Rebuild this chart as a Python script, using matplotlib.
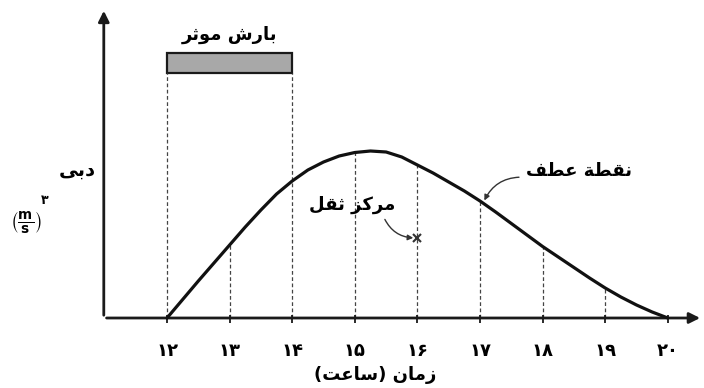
import matplotlib
matplotlib.use("Agg")
import matplotlib.pyplot as plt

# داده‌ها (خوانده‌شده از شکل)
hours = [12.0, 12.25, 12.5, 12.75, 13.0, 13.25, 13.5, 13.75, 14.0, 14.25, 14.5, 14.75,
         15.0, 15.25, 15.5, 15.75, 16.0, 16.25, 16.5, 16.75, 17.0, 17.25, 17.5, 17.75,
         18.0, 18.25, 18.5, 18.75, 19.0, 19.25, 19.5, 19.75, 20.0]
discharge = [0, 18.5, 37, 55, 73, 91, 108, 124, 137, 148, 156, 162,
             165.5, 167, 166, 161, 153, 145, 136, 127, 117, 106, 94.5, 83,
             71.5, 61, 50.5, 40, 30, 21, 13, 6, 0]

tick_hours = [12, 13, 14, 15, 16, 17, 18, 19, 20]
guide_hours = [13, 15, 16, 17, 18, 19]
guide_tops = [73, 165.5, 153, 117, 71.5, 30]
rain_start, rain_end = 12, 14
rain_bottom, rain_top = 245, 265
centroid = (16, 80)
inflection = (17.05, 115)

label_rain = "بارش موثر"
label_y = "دبی"
label_x = "زمان (ساعت)"
label_centroid = "مرکز ثقل"
label_inflection = "نقطة عطف"

# شکل‌دهی ساده‌ی حروف عربی/فارسی (matplotlib خودش این کار را نمی‌کند)
FORMS = {
    'ا': ('\uFE8D', '\uFE8E', None, None),
    'ب': ('\uFE8F', '\uFE90', '\uFE91', '\uFE92'),
    'ة': ('\uFE93', '\uFE94', None, None),
    'ت': ('\uFE95', '\uFE96', '\uFE97', '\uFE98'),
    'ث': ('\uFE99', '\uFE9A', '\uFE9B', '\uFE9C'),
    'د': ('\uFEA9', '\uFEAA', None, None),
    'ر': ('\uFEAD', '\uFEAE', None, None),
    'ز': ('\uFEAF', '\uFEB0', None, None),
    'س': ('\uFEB1', '\uFEB2', '\uFEB3', '\uFEB4'),
    'ش': ('\uFEB5', '\uFEB6', '\uFEB7', '\uFEB8'),
    'ط': ('\uFEC1', '\uFEC2', '\uFEC3', '\uFEC4'),
    'ع': ('\uFEC9', '\uFECA', '\uFECB', '\uFECC'),
    'ف': ('\uFED1', '\uFED2', '\uFED3', '\uFED4'),
    'ق': ('\uFED5', '\uFED6', '\uFED7', '\uFED8'),
    'ل': ('\uFEDD', '\uFEDE', '\uFEDF', '\uFEE0'),
    'م': ('\uFEE1', '\uFEE2', '\uFEE3', '\uFEE4'),
    'ن': ('\uFEE5', '\uFEE6', '\uFEE7', '\uFEE8'),
    'ه': ('\uFEE9', '\uFEEA', '\uFEEB', '\uFEEC'),
    'و': ('\uFEED', '\uFEEE', None, None),
    'ک': ('\uFB8E', '\uFB8F', '\uFB90', '\uFB91'),
    'ی': ('\uFBFC', '\uFBFD', '\uFBFE', '\uFBFF'),
}
MIRROR = {'(': ')', ')': '('}


def fa(text):
    out = []
    for i, c in enumerate(text):
        if c not in FORMS:
            out.append(c)
            continue
        prev = text[i - 1] if i > 0 else ''
        nxt = text[i + 1] if i + 1 < len(text) else ''
        jp = prev in FORMS and FORMS[prev][2] is not None
        jn = FORMS[c][2] is not None and nxt in FORMS
        if jp and jn:
            out.append(FORMS[c][3])
        elif jp:
            out.append(FORMS[c][1])
        elif jn:
            out.append(FORMS[c][2])
        else:
            out.append(FORMS[c][0])
    return ''.join(MIRROR.get(c, c) for c in reversed(out))


def fa_num(n):
    return str(n).translate(str.maketrans('0123456789', '۰۱۲۳۴۵۶۷۸۹'))


plt.rcParams['font.family'] = ['DejaVu Sans']
plt.rcParams['mathtext.fontset'] = 'dejavusans'

fig = plt.figure(figsize=(7.04, 3.88), dpi=100)
ax = fig.add_axes([0, 0, 1, 1])
ax.set_xlim(9.332, 20.578)
ax.set_ylim(-70, 318)
ax.axis('off')

# خطوط راهنمای خط‌چین
ax.vlines(guide_hours, 0, guide_tops, colors='#444444', linestyles=(0, (3, 2)), lw=0.9)
ax.vlines([rain_start, rain_end], 0, rain_bottom, colors='#444444', linestyles=(0, (3, 2)), lw=0.9)

# بارش موثر
ax.bar(rain_start, rain_top - rain_bottom, width=rain_end - rain_start, bottom=rain_bottom,
       align='edge', color='#a8a8a8', edgecolor='#1a1a1a', lw=1.6)
ax.text((rain_start + rain_end) / 2, 283, fa(label_rain), ha='center', va='center',
        fontsize=13, fontweight='bold')

# هیدروگراف
ax.plot(hours, discharge, color='#111111', lw=2.3, solid_joinstyle='round',
        solid_capstyle='round', zorder=4)

# محورها
ax.annotate('', xy=(20.56, 0), xytext=(10.99, 0), annotation_clip=False,
            arrowprops=dict(arrowstyle='-|>', lw=2, color='#1a1a1a', mutation_scale=16))
ax.annotate('', xy=(10.99, 310), xytext=(10.99, 0), annotation_clip=False,
            arrowprops=dict(arrowstyle='-|>', lw=2, color='#1a1a1a', mutation_scale=16))
ax.vlines(tick_hours, -5, 3, colors='#1a1a1a', lw=1.3)
for h in tick_hours:
    ax.text(h, -33, fa_num(h), ha='center', va='center', fontsize=13, fontweight='bold')
ax.text(15.32, -57, fa(label_x), ha='center', va='center', fontsize=13, fontweight='bold')

# برچسب محور قائم
ax.text(10.56, 148, fa(label_y), ha='center', va='center', fontsize=14, fontweight='bold')
ax.text(9.74, 96, r'$\left(\frac{\mathbf{m}}{\mathbf{s}}\right)$', ha='center', va='center',
        fontsize=14)
ax.text(10.04, 117, fa_num(3), ha='center', va='center', fontsize=9, fontweight='bold')

# مرکز ثقل
ax.plot(*centroid, marker='x', color='#333333', ms=6, mew=1.5, zorder=5)
ax.annotate(fa(label_centroid), xy=centroid, xytext=(14.96, 113), ha='center', va='center',
            fontsize=13, fontweight='bold',
            arrowprops=dict(arrowstyle='-|>', lw=1, color='#333333', mutation_scale=8,
                            relpos=(0.85, 0.0), shrinkA=2, shrinkB=3,
                            connectionstyle='arc3,rad=0.35'))

# نقطه عطف
ax.annotate(fa(label_inflection), xy=inflection, xytext=(18.58, 147), ha='center', va='center',
            fontsize=13, fontweight='bold',
            arrowprops=dict(arrowstyle='-|>', lw=1, color='#333333', mutation_scale=8,
                            relpos=(0.0, 0.15), shrinkA=3, shrinkB=2,
                            connectionstyle='arc3,rad=0.35'))

fig.savefig('out.png', dpi=100, facecolor='white')
